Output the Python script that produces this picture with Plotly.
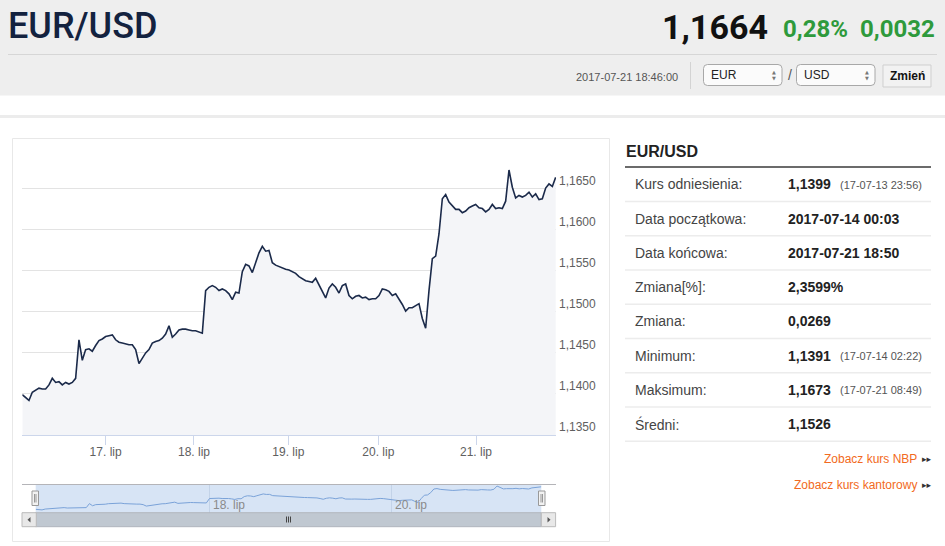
import plotly.graph_objects as go

# EUR/USD 14-21 lip 2017, sampled evenly along the ordinal (trading-time) axis
rates = [
    1.1399, 1.1396, 1.1392, 1.1402, 1.1405, 1.1407, 1.1406, 1.1406, 1.1411, 1.1419,
    1.1414, 1.1415, 1.1411, 1.1414, 1.1412, 1.1414, 1.1419, 1.1466, 1.1441, 1.1454,
    1.1455, 1.1452, 1.1459, 1.1465, 1.1467, 1.1470, 1.1471, 1.1472, 1.1466, 1.1463,
    1.1462, 1.1461, 1.1460, 1.1460, 1.1454, 1.1437, 1.1443, 1.1450, 1.1454, 1.1462,
    1.1464, 1.1465, 1.1468, 1.1473, 1.1483, 1.1469, 1.1473, 1.1478, 1.1479, 1.1479,
    1.1478, 1.1477, 1.1477, 1.1475, 1.1474, 1.1526, 1.1530, 1.1532, 1.1530, 1.1526,
    1.1528, 1.1526, 1.1522, 1.1515, 1.1524, 1.1523, 1.1549, 1.1558, 1.1556, 1.1548,
    1.1559, 1.1572, 1.1580, 1.1574, 1.1575, 1.1560, 1.1557, 1.1555, 1.1554, 1.1552,
    1.1551, 1.1549, 1.1547, 1.1543, 1.1540, 1.1538, 1.1537,
    1.1536, 1.1541, 1.1533, 1.1526, 1.1517, 1.1529, 1.1534, 1.1530, 1.1523, 1.1532,
    1.1534, 1.1520, 1.1516, 1.1519, 1.1520, 1.1517, 1.1518, 1.1515, 1.1516, 1.1516,
    1.1520, 1.1528, 1.1527, 1.1525, 1.1520, 1.1522, 1.1516, 1.1509, 1.1501, 1.1505,
    1.1505, 1.1508, 1.1510, 1.1492, 1.1480, 1.1526, 1.1565, 1.1568, 1.1595, 1.1638,
    1.1643, 1.1634, 1.1629, 1.1625, 1.1625, 1.1621, 1.1623, 1.1627, 1.1629, 1.1631,
    1.1627, 1.1626, 1.1622, 1.1625, 1.1631, 1.1626, 1.1627, 1.1626, 1.1635, 1.1673,
    1.1652, 1.1639, 1.1642, 1.1640, 1.1642, 1.1646, 1.1640, 1.1644, 1.1637, 1.1638,
    1.1651, 1.1656, 1.1653, 1.1664,
]
idx = list(range(len(rates)))

day_labels = ["17. lip", "18. lip", "19. lip", "20. lip", "21. lip"]
day_pos = [25.0, 51.5, 79.8, 106.8, 136.1]      # sample index where each day starts
nav_labels = ["18. lip", "20. lip"]
nav_pos = [54.9, 112.5]
y_ticks = [1.135, 1.140, 1.145, 1.150, 1.155, 1.160, 1.165, 1.170]

pair = "EUR/USD"
last_rate = "1,1664"
change_pct = "0,28%"
change_abs = "0,0032"
quote_time = "2017-07-21 18:46:00"

stat_labels = ["Kurs odniesienia:", "Data początkowa:", "Data końcowa:", "Zmiana[%]:",
               "Zmiana:", "Minimum:", "Maksimum:", "Średni:"]
stat_values = ["1,1399", "2017-07-14 00:03", "2017-07-21 18:50", "2,3599%",
               "0,0269", "1,1391", "1,1673", "1,1526"]
stat_notes = ["(17-07-13 23:56)", "", "", "", "", "(17-07-14 02:22)", "(17-07-21 08:49)", ""]
links = ["Zobacz kurs NBP", "Zobacz kurs kantorowy"]

W, H = 945, 546
ARIAL = "Liberation Sans, Arial, sans-serif"
HEAD = "Roboto, sans-serif"

# navigator plot area, in page pixels
NAV_X0, NAV_X1 = 35.7, 541.3
NAV_RANGE = [0, 160]


def px(x):
    return x / W


def py(y):
    return 1 - y / H


shapes = []
annotations = []


def rect(x0, y0, x1, y1, fill=None, line=None, width=1, layer="below"):
    shapes.append(dict(type="rect", xref="paper", yref="paper",
                       x0=px(x0), x1=px(x1), y0=py(y1), y1=py(y0),
                       fillcolor=fill or "rgba(0,0,0,0)",
                       line=dict(color=line or "rgba(0,0,0,0)", width=width if line else 0),
                       layer=layer))


def seg(x0, y0, x1, y1, color, width=1, layer="below"):
    shapes.append(dict(type="line", xref="paper", yref="paper",
                       x0=px(x0), x1=px(x1), y0=py(y0), y1=py(y1),
                       line=dict(color=color, width=width), layer=layer))


def path(points, fill, line=None, layer="above"):
    d = "M" + " L".join(f"{px(a)},{py(b)}" for a, b in points) + " Z"
    shapes.append(dict(type="path", xref="paper", yref="paper", path=d, fillcolor=fill,
                       line=dict(color=line or "rgba(0,0,0,0)", width=1 if line else 0),
                       layer=layer))


def rrect(x0, y0, x1, y1, r, fill, line):
    p = [f"M{px(x0 + r)},{py(y0)}", f"L{px(x1 - r)},{py(y0)}",
         f"Q{px(x1)},{py(y0)} {px(x1)},{py(y0 + r)}", f"L{px(x1)},{py(y1 - r)}",
         f"Q{px(x1)},{py(y1)} {px(x1 - r)},{py(y1)}", f"L{px(x0 + r)},{py(y1)}",
         f"Q{px(x0)},{py(y1)} {px(x0)},{py(y1 - r)}", f"L{px(x0)},{py(y0 + r)}",
         f"Q{px(x0)},{py(y0)} {px(x0 + r)},{py(y0)}", "Z"]
    shapes.append(dict(type="path", xref="paper", yref="paper", path=" ".join(p),
                       fillcolor=fill, line=dict(color=line, width=1), layer="above"))


def text(x, y, s, size, color, anchor="left", family=ARIAL, weight="normal"):
    annotations.append(dict(xref="paper", yref="paper", x=px(x), y=py(y), text=s,
                            showarrow=False, xanchor=anchor, yanchor="middle",
                            font=dict(size=size, color=color, family=family, weight=weight)))


# ---- page header
rect(0, 0, W, 95.5, fill="#eeeeee")
seg(8, 54.5, 937, 54.5, "#d6d6d6")
text(6, 26, pair, 36, "#13223f", family=HEAD, weight=500)
text(770, 27, last_rate, 34, "#111111", anchor="right", family=HEAD, weight="bold")
text(781, 29, change_pct, 24, "#2e9a3c", family=HEAD, weight="bold")
text(937, 29, change_abs, 24, "#2e9a3c", anchor="right", family=HEAD, weight="bold")
text(680, 77, quote_time, 11, "#555555", anchor="right")
seg(690.5, 62, 690.5, 89, "#d3d3d3")
for x0, cur in [(703.5, "EUR"), (796.5, "USD")]:
    rrect(x0, 64.5, x0 + 78.5, 85.5, 4, "#fbfbfb", "#a8a8a8")
    text(x0 + 5, 75, cur, 12, "#222222")
    text(x0 + 70, 72, "▲", 5, "#777777", anchor="center", family="DejaVu Sans")
    text(x0 + 70, 78.5, "▼", 5, "#777777", anchor="center", family="DejaVu Sans")
text(789.5, 75.5, "/", 14, "#555555", anchor="center")
rect(883, 65, 931, 87, fill="#f2f2f2", line="#cfcfcf", layer="above")
text(907, 76, "Zmień", 12, "#111111", anchor="center", weight="bold")

# ---- page body frame
rect(0, 115, W, 118, fill="#ececec")
rect(12.5, 138.5, 609.5, 541.5, line="#e8e8e8")

# ---- navigator decorations
rect(NAV_X0, 484, NAV_X1, 512.7, fill="#d7e4f5")
seg(22, 484.5, 556, 484.5, "#b4b4b8", layer="above")
rect(NAV_X0, 512.7, NAV_X1, 526.7, fill="#c0c8d1", line="#b0b6bd", layer="above")
for x0 in (22, NAV_X1):
    rect(x0, 512.7, x0 + 14.3, 526.7, fill="#e8e8e8", line="#bbbbbb", layer="above")
path([(30.5, 517), (27.5, 519.7), (30.5, 522.4)], "#555555")
path([(547.5, 517), (550.5, 519.7), (547.5, 522.4)], "#555555")
for gx in (286.5, 288.5, 290.5):
    seg(gx, 516.5, gx, 522.5, "#444444", layer="above")
for hx in (32, 538.5):
    rect(hx, 491, hx + 6.5, 505.5, fill="#f2f2f2", line="#999999", layer="above")
    seg(hx + 2.5, 494, hx + 2.5, 502.5, "#999999", layer="above")
    seg(hx + 4, 494, hx + 4, 502.5, "#999999", layer="above")
for pos, lab in zip(nav_pos, nav_labels):
    lx = NAV_X0 + (pos - NAV_RANGE[0]) / (NAV_RANGE[1] - NAV_RANGE[0]) * (NAV_X1 - NAV_X0)
    text(lx + 2, 505, lab, 12, "#8a8a8a")

# ---- statistics panel
text(624, 151, pair, 16, "#222222", weight="bold")
rect(625, 166, 931, 168, fill="#6b6b6b")
for i, (lab, val, note) in enumerate(zip(stat_labels, stat_values, stat_notes)):
    yc = 184.3 + i * 34.25
    text(633, yc, lab, 14, "#444444")
    text(786, yc, val, 14, "#222222", weight="bold")
    if note:
        text(838, yc + 0.5, note, 11, "#555555")
    seg(625, yc + 17.3, 931, yc + 17.3, "#ececec", width=1.5)
for i, lab in enumerate(links):
    yl = 458.5 + i * 26
    text(919, yl, lab, 12, "#f26a21", anchor="right")
    text(920, yl, "▸▸", 9, "#333333", family="DejaVu Sans")

fig = go.Figure()
fig.add_trace(go.Scatter(
    x=idx, y=rates, mode="lines", fill="tozeroy", fillcolor="#f4f5f8",
    line=dict(color="#1b2a4a", width=1.6), hoverinfo="skip", xaxis="x", yaxis="y",
))
fig.add_trace(go.Scatter(
    x=idx, y=rates, mode="lines", line=dict(color="#7aa2d8", width=1),
    hoverinfo="skip", xaxis="x2", yaxis="y2",
))

fig.update_layout(
    width=W, height=H,
    margin=dict(l=0, r=0, t=0, b=0),
    paper_bgcolor="white", plot_bgcolor="rgba(0,0,0,0)",
    showlegend=False,
    xaxis=dict(
        domain=[px(22.3), px(556)], range=[0, 160.1],
        tickvals=day_pos, ticktext=day_labels,
        ticks="outside", ticklen=9, tickcolor="#ccd6eb", ticklabelstandoff=-3,
        showline=True, linecolor="#ccd6eb", linewidth=1,
        showgrid=False, zeroline=False, fixedrange=True,
        tickfont=dict(size=12, color="#606060", family=ARIAL),
    ),
    yaxis=dict(
        domain=[py(435), py(147.7)], range=[1.13499, 1.17002],
        side="right", anchor="x",
        tickvals=y_ticks,
        ticktext=[("" if v == y_ticks[-1] else f"{v:.4f}".replace(".", ",")) for v in y_ticks],
        ticklabelposition="outside top", ticklabelstandoff=2,
        showgrid=True, gridcolor="#e3e3e3", gridwidth=1,
        showline=False, zeroline=False, ticks="", fixedrange=True,
        tickfont=dict(size=12, color="#606060", family=ARIAL),
    ),
    xaxis2=dict(
        domain=[px(NAV_X0), px(NAV_X1)], range=NAV_RANGE, anchor="y2",
        tickvals=nav_pos, showticklabels=False,
        showgrid=True, gridcolor="#c3d3e8", showline=False, zeroline=False,
        ticks="", fixedrange=True,
    ),
    yaxis2=dict(
        domain=[py(512.7), py(484)], range=[1.1359, 1.1697], anchor="x2",
        showgrid=False, showticklabels=False, zeroline=False, showline=False,
        fixedrange=True,
    ),
    shapes=shapes,
    annotations=annotations,
)

# the page body has a default 8px margin; drop it so the figure fills the window
fig.write_html("out.html", config={"displayModeBar": False},
               post_script="document.body.style.margin = '0';")
